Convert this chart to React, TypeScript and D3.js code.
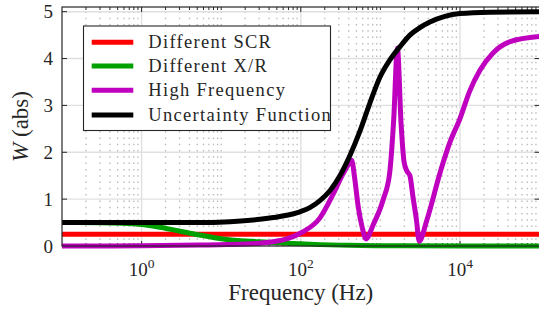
import React from 'react';
import * as d3 from 'd3';

// Different SCR
const scrFreq = [0.1, 1e5];
const scrW = [0.25, 0.25];

// Different X/R
const xrFreq = [0.1, 0.3, 1, 1.7, 4.4, 11.7, 30, 80, 130, 400, 2000, 1e5];
const xrW = [0.5, 0.495, 0.46, 0.4, 0.26, 0.14, 0.09, 0.055, 0.04, 0.015, 0.003, 0];

// High Frequency
const hfFreq = [0.1, 1, 5.4, 11.8, 30.6, 66.7, 106, 174, 254, 330, 390, 435, 475, 525, 590, 660,
  810, 1080, 1310, 1470, 1635, 1820, 1980, 2150, 2350, 2560, 2840, 3070, 3830, 5630, 7500,
  10000, 13200, 17800, 26000, 42600, 1e5];
const hfW = [0, 0.005, 0.02, 0.03, 0.06, 0.15, 0.3, 0.6, 1.1, 1.5, 1.72, 1.83, 1.45, 0.85, 0.4, 0.15,
  0.45, 0.98, 1.57, 2.7, 4.22, 2.6, 1.8, 1.6, 1.5, 1.06, 0.55, 0.1, 0.55, 1.57, 2.22,
  2.72, 3.3, 3.75, 4.12, 4.36, 4.47];

// Uncertainty Function
const ucFreq = [0.1, 1, 5, 12.9, 30.6, 54.6, 97.5, 130, 174, 232, 310, 414, 553, 738, 986, 1316,
  1757, 2346, 3134, 4185, 6460, 9950, 23800, 1e5];
const ucW = [0.5, 0.5, 0.5, 0.52, 0.57, 0.63, 0.73, 0.82, 0.97, 1.18, 1.5, 1.93, 2.45, 3.05, 3.6, 3.97,
  4.25, 4.5, 4.66, 4.78, 4.9, 4.96, 4.99, 5.0];

const yTicks = [0, 1, 2, 3, 4, 5];
const xMajor = [1, 100, 10000];
const xLabels = ['0', '2', '4'];

const series = [
  {name: 'Different SCR', color: '#ff0000', f: scrFreq, w: scrW},
  {name: 'Different X/R', color: '#00a000', f: xrFreq, w: xrW},
  {name: 'High Frequency', color: '#bf00bf', f: hfFreq, w: hfW},
  {name: 'Uncertainty Function', color: '#000000', f: ucFreq, w: ucW},
];

const width = 539;
const height = 312;
const FONT = 'Times New Roman';

export default function App() {
  const x = d3.scaleLog().domain([0.1, 1e5]).range([62, 539.6]);
  const y = d3.scaleLinear().domain([0, 5.1]).range([246, 7]);
  const left = 62, right = 539.6, top = 7, bottom = 246;

  const xMinor: number[] = [];
  for (let k = -1; k <= 4; k++) {
    const base = Math.pow(10, k);
    if (k === 1 || k === 3) xMinor.push(base);
    for (let m = 2; m <= 9; m++) xMinor.push(m * base);
  }

  const line = d3.line<[number, number]>()
    .x(d => x(d[0]))
    .y(d => y(d[1]))
    .curve(d3.curveMonotoneX);

  const legendRows = [42.3, 66, 90.3, 115];

  return (
    <svg width={width} height={height} style={{position: 'absolute', left: 0, top: 0}}>
      <rect x={0} y={0} width={width} height={height} fill="#fff" />
      {/* minor grid */}
      {xMinor.map((v, i) => (
        <line key={'mg' + i} x1={x(v)} x2={x(v)} y1={bottom} y2={top}
          stroke="#b8b8b8" strokeWidth={1.3} strokeDasharray="1.5 4.8" />
      ))}
      {/* major grid */}
      {xMajor.map((v, i) => (
        <line key={'xg' + i} x1={x(v)} x2={x(v)} y1={bottom} y2={top} stroke="#e0e0e0" strokeWidth={1.4} />
      ))}
      {yTicks.map((v, i) => (
        <line key={'yg' + i} x1={left} x2={right} y1={y(v)} y2={y(v)} stroke="#e0e0e0" strokeWidth={1.4} />
      ))}

      {/* ticks */}
      {xMinor.map((v, i) => (
        <g key={'mt' + i} stroke="#262626" strokeWidth={1}>
          <line x1={x(v)} x2={x(v)} y1={top} y2={top + 3} />
          <line x1={x(v)} x2={x(v)} y1={bottom} y2={bottom - 3} />
        </g>
      ))}
      {xMajor.map((v, i) => (
        <g key={'xt' + i} stroke="#262626" strokeWidth={1}>
          <line x1={x(v)} x2={x(v)} y1={top} y2={top + 5} />
          <line x1={x(v)} x2={x(v)} y1={bottom} y2={bottom - 5} />
        </g>
      ))}
      {yTicks.map((v, i) => (
        <g key={'yt' + i} stroke="#262626" strokeWidth={1}>
          <line x1={left} x2={left + 5} y1={y(v)} y2={y(v)} />
          <line x1={right} x2={right - 5} y1={y(v)} y2={y(v)} />
        </g>
      ))}

      {/* curves */}
      {series.map(s => (
        <path key={s.name} d={line(s.f.map((f, i) => [f, s.w[i]] as [number, number])) || ''}
          fill="none" stroke={s.color} strokeWidth={5} strokeLinejoin="round" />
      ))}

      {/* frame */}
      <rect x={left} y={top} width={right - left} height={bottom - top} fill="none" stroke="#262626" strokeWidth={1.2} />

      {/* tick labels */}
      {yTicks.map((v, i) => (
        <text key={'yl' + i} x={53} y={y(v) + 6.5} textAnchor="end" fontSize={19} fill="#262626"
          fontFamily={FONT} style={{fontFamily: FONT}}>{String(v)}</text>
      ))}
      {xMajor.map((v, i) => (
        <text key={'xl' + i} x={x(v)} y={276} textAnchor="middle" fontSize={19} fill="#262626"
          fontFamily={FONT} style={{fontFamily: FONT}}>
          10<tspan dy={-8} fontSize={13.5}>{xLabels[i]}</tspan>
        </text>
      ))}

      {/* axis labels */}
      <text x={(left + right) / 2} y={300} textAnchor="middle" fontSize={23} fill="#262626"
        fontFamily={FONT} style={{fontFamily: FONT}}>Frequency (Hz)</text>
      <text transform={`translate(28, ${(top + bottom) / 2}) rotate(-90)`} textAnchor="middle" fontSize={23} fill="#262626"
        fontFamily={FONT} style={{fontFamily: FONT}}>
        <tspan fontStyle="italic">W</tspan> (abs)
      </text>

      {/* legend */}
      <rect x={83.5} y={26} width={247} height={104.5} fill="#fff" stroke="#262626" strokeWidth={1.1} />
      {series.map((s, i) => (
        <g key={'lg' + i}>
          <line x1={91.7} x2={133.3} y1={legendRows[i]} y2={legendRows[i]} stroke={s.color} strokeWidth={5} />
          <text x={148.3} y={legendRows[i] + 5.5} fontSize={18.5} letterSpacing={1.3} fill="#262626"
            fontFamily={FONT} style={{fontFamily: FONT}}>{s.name}</text>
        </g>
      ))}
    </svg>
  );
}
